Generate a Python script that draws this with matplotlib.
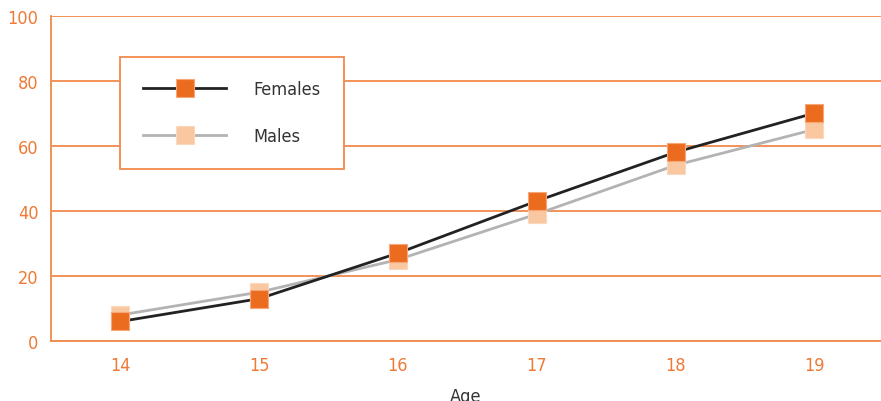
import matplotlib
matplotlib.use("Agg")
import matplotlib.pyplot as plt
from matplotlib.lines import Line2D

ages = [14, 15, 16, 17, 18, 19]
females = [6, 13, 27, 43, 58, 70]
males = [8, 15, 25, 39, 54, 65]
yticks = [0, 20, 40, 60, 80, 100]

ORANGE = "#EE7A35"
GRID = "#F08A4B"
FEM = "#EC6C1F"
MAL = "#F9C7A0"

plt.rcParams['font.family'] = ['DejaVu Sans']
plt.rcParams['font.stretch'] = 'condensed'

fig = plt.figure(figsize=(8.81, 4.02), dpi=100)
ax = fig.add_axes([51/881, 60/402, 1 - 51/881, (385.5 - 60)/402])

ax.plot(ages, males, color="#B3B3B3", lw=2, zorder=3)
ax.plot(ages, females, color="#222222", lw=2, zorder=3)
ax.plot(ages, males, ls="none", marker="s", ms=13, mfc=MAL, mec="#FBD9BE", mew=0.8, zorder=4)
ax.plot(ages, females, ls="none", marker="s", ms=13, mfc=FEM, mec="#F5A77A", mew=0.8, zorder=5)

h1 = Line2D([], [], color="#222222", lw=2, marker="s", ms=13, mfc=FEM, mec="#F5A77A", mew=0.8)
h2 = Line2D([], [], color="#B3B3B3", lw=2, marker="s", ms=13, mfc=MAL, mec="#FBD9BE", mew=0.8)
leg = ax.legend([h1, h2], ["Females", "Males"], loc="upper left",
                bbox_to_anchor=((120 - 51) / 830, (342 - 58) / 325.5),
                borderaxespad=0, frameon=True, fancybox=False, framealpha=1,
                edgecolor=GRID, fontsize=13, handlelength=4.55, handletextpad=1.55,
                labelspacing=1.6, borderpad=1.3)
leg.get_frame().set_linewidth(1.3)
for t in leg.get_texts():
    t.set_color("#333333")
leg.set_zorder(10)

ax.set_xlim(13.5, 19.48)
ax.set_ylim(0, 100)
ax.set_xticks(ages)
ax.set_yticks(yticks)
ax.tick_params(axis="both", length=0, colors=ORANGE, labelsize=13)
ax.tick_params(axis="y", pad=9)
ax.tick_params(axis="x", pad=11)
ax.yaxis.grid(True, color=GRID, lw=1.3)
ax.set_axisbelow(True)
for s in ["top", "right"]:
    ax.spines[s].set_visible(False)
for s in ["left", "bottom"]:
    ax.spines[s].set_color(GRID)
    ax.spines[s].set_linewidth(1.3)
ax.set_xlabel("Age", fontsize=13, color="#333333", labelpad=9)

fig.savefig("out.png", dpi=100)
